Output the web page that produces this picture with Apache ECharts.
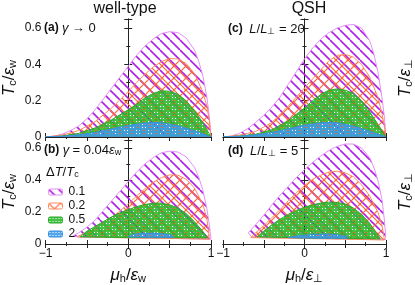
<!DOCTYPE html>
<html><head><meta charset="utf-8">
<script src="https://cdn.jsdelivr.net/npm/echarts@6/dist/echarts.min.js"></script>
<style>html,body{margin:0;padding:0;background:#fff}#c{width:415px;height:285px}</style>
</head><body><div id="c"></div>
<script>
// ---------- data ----------
const LEVELS = ['0.1', '0.2', '0.5', '2'];
const X_TICKS = ['\u22121', '0', '1'];
const Y_TICKS = ['0', '0.2', '0.4', '0.6'];

// panel (a): well-type, gamma -> 0 (regions from T=0 up to curve)
const A1_MU = [-1,-0.9,-0.8,-0.7,-0.6,-0.5,-0.4,-0.3,-0.2,-0.1,0,0.1,0.2,0.3,0.4,0.5,0.6,0.7,0.8,0.85,0.9,0.95,0.98,1];
const A1_T  = [0,0.005,0.015,0.035,0.06,0.1,0.15,0.21,0.27,0.33,0.39,0.45,0.5,0.54,0.57,0.58,0.575,0.545,0.48,0.42,0.34,0.22,0.11,0];
const A2_MU = [-1,-0.8,-0.6,-0.4,-0.2,0,0.1,0.2,0.3,0.4,0.5,0.6,0.7,0.8,0.9,0.95,0.98,1];
const A2_T  = [0,0.01,0.035,0.085,0.16,0.25,0.3,0.345,0.385,0.415,0.432,0.43,0.405,0.35,0.25,0.17,0.09,0];
const A3_MU = [-1,-0.8,-0.6,-0.4,-0.2,0,0.1,0.2,0.3,0.4,0.5,0.6,0.7,0.8,0.9,0.95,1];
const A3_T  = [0,0.005,0.02,0.05,0.095,0.15,0.18,0.215,0.24,0.255,0.252,0.235,0.2,0.145,0.08,0.04,0];
const A4_MU = [-1,-0.8,-0.6,-0.4,-0.2,0,0.2,0.3,0.4,0.6,0.8,0.9,1];
const A4_T  = [0,0.004,0.012,0.025,0.045,0.063,0.077,0.08,0.078,0.062,0.035,0.018,0];

// panel (c): QSH, L/L_perp = 20
const C1_MU = [-1,-0.9,-0.8,-0.7,-0.6,-0.5,-0.4,-0.3,-0.2,-0.1,0,0.1,0.2,0.3,0.4,0.5,0.6,0.7,0.8,0.85,0.9,0.95,0.98,1];
const C1_T  = [0,0.005,0.02,0.045,0.08,0.12,0.165,0.22,0.29,0.36,0.43,0.49,0.54,0.575,0.6,0.615,0.62,0.6,0.53,0.46,0.36,0.22,0.11,0];
const C2_MU = [-1,-0.8,-0.6,-0.4,-0.2,0,0.1,0.2,0.3,0.4,0.5,0.6,0.7,0.8,0.9,0.95,0.98,1];
const C2_T  = [0,0.01,0.03,0.08,0.17,0.27,0.32,0.37,0.42,0.45,0.455,0.44,0.4,0.33,0.22,0.13,0.06,0];
const C3_MU = [-1,-0.8,-0.6,-0.4,-0.2,0,0.1,0.2,0.3,0.4,0.5,0.6,0.7,0.8,0.9,0.95,1];
const C3_T  = [0,0.005,0.015,0.04,0.09,0.16,0.2,0.235,0.258,0.265,0.258,0.24,0.2,0.14,0.07,0.035,0];
const C4_MU = [-1,-0.8,-0.6,-0.4,-0.2,0,0.2,0.3,0.4,0.6,0.8,0.9,1];
const C4_T  = [0,0.004,0.012,0.025,0.045,0.065,0.078,0.08,0.078,0.06,0.032,0.016,0];

// panel (b): well-type, gamma = 0.04 eps_w (closed regions: upper then lower)
const B1_UP_MU = [-0.67,-0.6,-0.5,-0.4,-0.3,-0.2,-0.1,0,0.1,0.2,0.3,0.4,0.5,0.6,0.7,0.8,0.85,0.9,0.95,0.98,1];
const B1_UP_T  = [0.05,0.07,0.105,0.15,0.21,0.27,0.33,0.39,0.45,0.5,0.54,0.57,0.58,0.575,0.545,0.48,0.42,0.34,0.22,0.12,0.03];
const B1_LO_MU = [1,0.5,0,-0.5,-0.6,-0.67];
const B1_LO_T  = [0.03,0.035,0.04,0.042,0.044,0.05];
const B2_UP_MU = [-0.62,-0.5,-0.4,-0.2,0,0.1,0.2,0.3,0.4,0.5,0.6,0.7,0.8,0.9,0.95,0.98];
const B2_UP_T  = [0.045,0.075,0.095,0.165,0.25,0.3,0.345,0.385,0.415,0.432,0.43,0.405,0.35,0.25,0.16,0.04];
const B2_LO_MU = [0.98,0.5,0,-0.62];
const B2_LO_T  = [0.03,0.035,0.038,0.045];
const B3_UP_MU = [-0.58,-0.5,-0.4,-0.3,-0.2,-0.1,0,0.1,0.2,0.3,0.4,0.5,0.6,0.7,0.8,0.9,0.95];
const B3_UP_T  = [0.045,0.08,0.11,0.14,0.17,0.195,0.215,0.233,0.247,0.255,0.255,0.245,0.225,0.19,0.14,0.08,0.045];
const B3_LO_MU = [0.95,0.5,0,-0.58];
const B3_LO_T  = [0.038,0.04,0.04,0.045];
const B4_UP_MU = [0,0.05,0.15,0.3,0.45,0.52,0.55];
const B4_UP_T  = [0.045,0.058,0.066,0.068,0.062,0.055,0.045];
const B4_LO_MU = [0.55,0.3,0];
const B4_LO_T  = [0.042,0.042,0.045];

// panel (d): QSH, L/L_perp = 5
const D1_UP_MU = [-0.69,-0.6,-0.5,-0.4,-0.3,-0.2,-0.1,0,0.1,0.2,0.3,0.4,0.5,0.6,0.7,0.8,0.85,0.9,0.95,0.98,1];
const D1_UP_T  = [0.07,0.12,0.18,0.245,0.305,0.36,0.415,0.465,0.51,0.55,0.585,0.61,0.625,0.625,0.6,0.54,0.48,0.4,0.28,0.15,0.03];
const D1_LO_MU = [1,0.5,0,-0.5,-0.65,-0.69];
const D1_LO_T  = [0.028,0.032,0.036,0.04,0.045,0.07];
const D2_UP_MU = [-0.66,-0.6,-0.5,-0.4,-0.3,-0.2,-0.1,0,0.1,0.2,0.3,0.4,0.5,0.6,0.7,0.8,0.9,0.95,0.98];
const D2_UP_T  = [0.04,0.07,0.115,0.165,0.215,0.27,0.32,0.365,0.405,0.43,0.45,0.455,0.445,0.42,0.37,0.3,0.2,0.12,0.03];
const D2_LO_MU = [0.98,0.5,0,-0.66];
const D2_LO_T  = [0.025,0.03,0.034,0.04];
const D3_UP_MU = [-0.58,-0.5,-0.4,-0.3,-0.2,-0.1,0,0.1,0.2,0.3,0.4,0.5,0.6,0.7,0.8,0.88,0.93];
const D3_UP_T  = [0.045,0.08,0.12,0.155,0.185,0.21,0.23,0.245,0.256,0.262,0.26,0.25,0.225,0.185,0.13,0.07,0.035];
const D3_LO_MU = [0.93,0.5,0,-0.58];
const D3_LO_T  = [0.032,0.035,0.038,0.045];
const D4_UP_MU = [-0.2,-0.1,0.1,0.3,0.45,0.53];
const D4_UP_T  = [0.04,0.05,0.06,0.062,0.055,0.04];
const D4_LO_MU = [0.53,0.2,-0.2];
const D4_LO_T  = [0.036,0.036,0.04];

// ---------- styles ----------
const FONT = 'Liberation Sans';
function hatchTile(color, size, lw, dirs) {
  const c = document.createElement('canvas'); c.width = c.height = size;
  const g = c.getContext('2d'); g.strokeStyle = color; g.lineWidth = lw;
  dirs.forEach(d => {
    for (let k = -1; k <= 1; k++) {
      g.beginPath();
      if (d === 'down') { g.moveTo(k * size, 0); g.lineTo(k * size + size, size); }
      else { g.moveTo(k * size, size); g.lineTo(k * size + size, 0); }
      g.stroke();
    }
  });
  return c;
}
function dotTile(color, size) {
  const c = document.createElement('canvas'); c.width = c.height = size;
  const g = c.getContext('2d'); g.fillStyle = color; g.fillRect(0, 0, size, size);
  g.clearRect(1, 1, 1, 1);
  return c;
}
const STY = [
  { fill: { image: hatchTile('#b01ee8', 10, 1.6, ['down']), repeat: 'repeat' }, stroke: '#e590f8', solid: '#c040f0' },
  { fill: { image: hatchTile('#ff6535', 12, 1.2, ['down', 'up']), repeat: 'repeat' }, stroke: '#ff8a5c', solid: '#ff7040' },
  { fill: { image: dotTile('rgba(40,185,40,0.88)', 3), repeat: 'repeat' }, stroke: '#2aa82a', solid: '#30b030' },
  { fill: { image: dotTile('rgba(60,155,235,0.88)', 3), repeat: 'repeat' }, stroke: '#3c8fe0', solid: '#4098e8' }
];

function pts(upMu, upT, loMu, loT) {
  const a = upMu.map((m, i) => [m, upT[i]]);
  if (loMu) return a.concat(loMu.map((m, i) => [m, loT[i]]));
  return a.concat([[upMu[upMu.length - 1], 0], [upMu[0], 0]]);
}
function shape(level, g, p) {
  const s = STY[level];
  return {
    type: 'custom', name: LEVELS[level], xAxisIndex: g, yAxisIndex: g,
    itemStyle: { color: s.solid }, data: p, clip: true,
    renderItem: (params, api) => {
      if (params.dataIndex !== 0) return null;
      return { type: 'polygon', shape: { points: p.map(q => api.coord(q)) },
        style: { fill: s.fill, stroke: s.stroke, lineWidth: 1 } };
    }
  };
}
const series = [
  shape(0, 0, pts(A1_MU, A1_T)), shape(1, 0, pts(A2_MU, A2_T)), shape(2, 0, pts(A3_MU, A3_T)), shape(3, 0, pts(A4_MU, A4_T)),
  shape(0, 1, pts(C1_MU, C1_T)), shape(1, 1, pts(C2_MU, C2_T)), shape(2, 1, pts(C3_MU, C3_T)), shape(3, 1, pts(C4_MU, C4_T)),
  shape(0, 2, pts(B1_UP_MU, B1_UP_T, B1_LO_MU, B1_LO_T)), shape(1, 2, pts(B2_UP_MU, B2_UP_T, B2_LO_MU, B2_LO_T)),
  shape(2, 2, pts(B3_UP_MU, B3_UP_T, B3_LO_MU, B3_LO_T)), shape(3, 2, pts(B4_UP_MU, B4_UP_T, B4_LO_MU, B4_LO_T)),
  shape(0, 3, pts(D1_UP_MU, D1_UP_T, D1_LO_MU, D1_LO_T)), shape(1, 3, pts(D2_UP_MU, D2_UP_T, D2_LO_MU, D2_LO_T)),
  shape(2, 3, pts(D3_UP_MU, D3_UP_T, D3_LO_MU, D3_LO_T)), shape(3, 3, pts(D4_UP_MU, D4_UP_T, D4_LO_MU, D4_LO_T))
];

// grids: 0=(a) 1=(c) 2=(b) 3=(d)
const grids = [
  { left: 39, top: 19, width: 172, height: 118 },
  { left: 223, top: 19, width: 172, height: 118 },
  { left: 39, top: 140, width: 172, height: 117 },
  { left: 223, top: 140, width: 172, height: 117 }
];
const lineSty = { show: true, lineStyle: { color: '#222', width: 1 } };
const tickSty = { show: true, inside: true, length: 4, lineStyle: { color: '#222', width: 1 } };
const minorSty = { show: true, splitNumber: 2, length: 2, lineStyle: { color: '#222', width: 1 } };
const rich = {
  t: { fontFamily: FONT, fontStyle: 'italic', fontSize: 17, color: '#111' },
  n: { fontFamily: FONT, fontSize: 17, color: '#111' },
  s: { fontFamily: FONT, fontSize: 11, color: '#111', verticalAlign: 'bottom', padding: [7, 0, 0, 0] }
};
function xLabelFmt(v) { const i = [-1, 0, 1].indexOf(Math.round(v * 1000) / 1000); return i >= 0 ? X_TICKS[i] : ''; }
function yLabelFmt(v) { const i = Math.round(v * 5); return Math.abs(v * 5 - i) < 1e-6 && i < 4 ? Y_TICKS[i] : ''; }

const xAxis = [], yAxis = [];
for (let g = 0; g < 4; g++) {
  const bottom = g >= 2, right = g % 2 === 1;
  xAxis.push({
    gridIndex: g, type: 'value', min: -1, max: 1, interval: 0.5, position: 'bottom',
    axisLine: lineSty, axisTick: tickSty, minorTick: minorSty, splitLine: { show: false },
    axisLabel: { show: bottom, formatter: xLabelFmt, fontFamily: FONT, fontSize: 12, color: '#111', margin: 4 },
    name: bottom ? (right ? '{t|\u03bc}{s|h}{n|/}{t|\u03b5}{s|\u22a5}' : '{t|\u03bc}{s|h}{n|/}{t|\u03b5}{s|w}') : '',
    nameLocation: 'middle', nameGap: 22, nameTextStyle: { rich }
  });
  yAxis.push({
    gridIndex: g, type: 'value', min: 0, max: 0.65, interval: 0.2, position: right ? 'right' : 'left',
    axisLine: lineSty, axisTick: tickSty, minorTick: minorSty, splitLine: { show: false },
    axisLabel: { show: !right, formatter: yLabelFmt, fontFamily: FONT, fontSize: 12, color: '#111', margin: 4 },
    name: right ? '{t|T}{s|c}{n|/}{t|\u03b5}{s|\u22a5}' : '{t|T}{s|c}{n|/}{t|\u03b5}{s|w}',
    nameLocation: 'middle', nameGap: right ? 10 : 27, nameRotate: 90, nameTextStyle: { rich }
  });
}
for (let g = 0; g < 4; g++) {
  const right = g % 2 === 1;
  xAxis.push({ gridIndex: g, type: 'value', min: -1, max: 1, interval: 0.5, position: 'top',
    axisLine: lineSty, axisTick: tickSty, minorTick: minorSty, axisLabel: { show: false }, splitLine: { show: false } });
  yAxis.push({ gridIndex: g, type: 'value', min: 0, max: 0.65, interval: 0.2, position: right ? 'left' : 'right',
    axisLine: lineSty, axisTick: tickSty, minorTick: minorSty, axisLabel: { show: false }, splitLine: { show: false } });
}

const lrich = {
  b: { fontFamily: FONT, fontWeight: 'bold', fontSize: 12, color: '#111' },
  i: { fontFamily: FONT, fontStyle: 'italic', fontSize: 13, color: '#111' },
  n: { fontFamily: FONT, fontSize: 13, color: '#111' },
  s: { fontFamily: FONT, fontSize: 9, color: '#111', verticalAlign: 'bottom', padding: [5, 0, 0, 0] }
};
function txt(x, y, text) {
  return { type: 'text', x, y, style: { text, rich: lrich, align: 'left', verticalAlign: 'middle',
    font: '12px ' + FONT, fill: '#111' } };
}
const graphic = [
  { type: 'text', x: 125, y: 9, style: { text: 'well-type', font: '16px ' + FONT, fill: '#111', align: 'center', verticalAlign: 'middle' } },
  { type: 'text', x: 309, y: 9, style: { text: 'QSH', font: '16px ' + FONT, fill: '#111', align: 'center', verticalAlign: 'middle' } },
  txt(44, 28, '{b|(a)} {i|\u03b3} {n|\u2192 0}'),
  txt(44, 150, '{b|(b)} {i|\u03b3} {n|= 0.04}{i|\u03b5}{s|w}'),
  txt(228, 29, '{b|(c)}  {i|L}{n|/}{i|L}{s|\u22a5}{n| = 20}'),
  txt(228, 151, '{b|(d)}  {i|L}{n|/}{i|L}{s|\u22a5}{n| = 5}'),
  txt(46, 172, '{n|\u0394}{i|T}{n|/}{i|T}{s|c}')
];

const chart = echarts.init(document.getElementById('c'), null, { renderer: 'canvas' });
chart.setOption({
  animation: false,
  grid: grids, xAxis, yAxis, series, graphic,
  legend: {
    orient: 'vertical', left: 43, top: 181, itemWidth: 14, itemHeight: 6, itemGap: 2, icon: 'roundRect',
    selectedMode: false, textStyle: { fontFamily: FONT, fontSize: 12, color: '#111', padding: [0, 0, 0, 1] },
    data: LEVELS.map((l, i) => ({ name: l, itemStyle: { color: STY[i].fill, borderColor: STY[i].stroke, borderWidth: 1 } }))
  }
});
</script></body></html>
